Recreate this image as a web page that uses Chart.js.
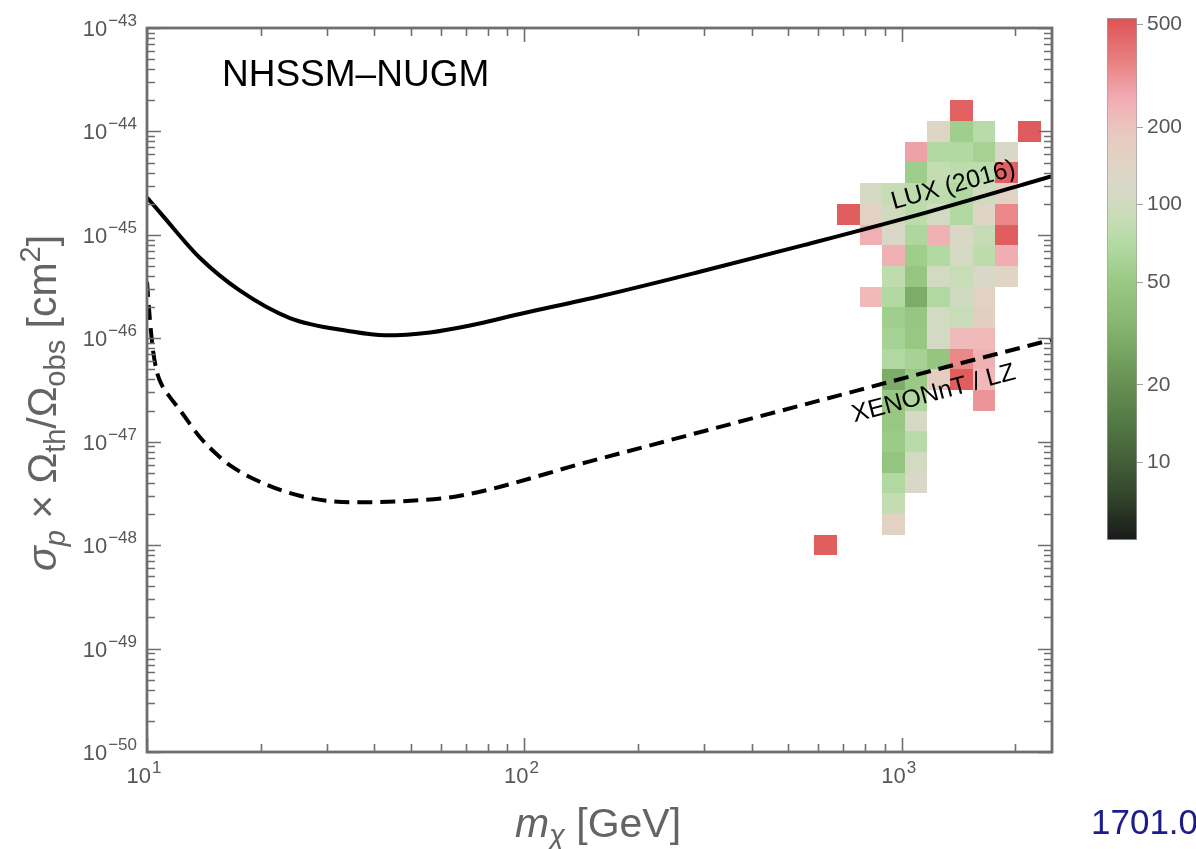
<!DOCTYPE html>
<html>
<head>
<meta charset="utf-8">
<title>NHSSM-NUGM</title>
<script src="https://cdn.jsdelivr.net/npm/chart.js@4.4.1/dist/chart.umd.min.js"></script>
<style>
  html, body { margin: 0; padding: 0; background: #fff; }
  #wrap { position: relative; width: 1196px; height: 849px; overflow: hidden; }
  #main { position: absolute; left: 0; top: 0; }
  #cbar { position: absolute; left: 1100px; top: 0; }
</style>
</head>
<body>
<div id="wrap">
  <canvas id="main" width="1196" height="849"></canvas>
  <canvas id="cbar" width="96" height="560"></canvas>
</div>
<script>
// LUX (2016) limit
const luxMass = [10, 10.96, 13.8, 17.6, 23.9, 34.5, 42.7, 56.2, 71.8, 97.3, 158.5, 291.6, 553, 1172, 2500];
const luxSigma = [2.3e-45, 1.56e-45, 6.0e-46, 2.9e-46, 1.57e-46, 1.17e-46, 1.07e-46, 1.14e-46, 1.33e-46, 1.72e-46, 2.55e-46, 4.4e-46, 8.0e-46, 1.66e-45, 3.7e-45];

// XENONnT / LZ projected reach
const xenonMass = [10, 10.18, 10.37, 10.63, 10.96, 11.5, 12.23, 13.0, 13.8, 15.1, 16.6, 19.9, 25.4, 34.5, 46.8, 67.5, 150, 300, 600, 1200, 2500];
const xenonSigma = [3.5e-46, 1.5e-46, 7.7e-47, 4.7e-47, 3.5e-47, 2.7e-47, 2.02e-47, 1.48e-47, 1.11e-47, 7.9e-48, 5.9e-48, 4.1e-48, 3.0e-48, 2.6e-48, 2.65e-48, 3.0e-48, 6.5e-48, 1.27e-47, 2.48e-47, 4.85e-47, 9.7e-47];

// density histogram: bin centres and widths (log10)
const binMass = [628, 721, 828, 951, 1091, 1253, 1439, 1652, 1897, 2178];
const binSigma = [1.585e-44, 1e-44, 6.31e-45, 3.98e-45, 2.51e-45, 1.585e-45, 1e-45, 6.31e-46, 3.98e-46, 2.51e-46,
                  1.585e-46, 1e-46, 6.31e-47, 3.98e-47, 2.51e-47, 1.585e-47, 1e-47, 6.31e-48, 3.98e-48, 2.51e-48,
                  1.585e-48, 1e-48];
const massBinDex = 0.06;
const sigmaBinDex = 0.2;

// points per bin, rows follow binSigma, columns follow binMass
const _ = null;
const counts = [
  [_, _, _, _, _, _, 470, _, _, _],
  [_, _, _, _, _, 140, 55, 75, _, 490],
  [_, _, _, _, 280, 70, 70, 58, 120, _],
  [_, _, _, _, 54, 85, 78, 78, 470, _],
  [_, _, 110, 88, 78, 80, 70, 100, 150, _],
  [_, 480, 150, 100, 78, 105, 70, 140, 340, _],
  [_, _, 250, 120, 65, 245, 125, 88, 480, _],
  [_, _, _, 245, 54, 70, 110, 78, 255, _],
  [_, _, _, 80, 47, 105, 92, 115, 145, _],
  [_, _, 225, 70, 30, 68, 100, 150, _, _],
  [_, _, _, 55, 47, 105, 90, 160, _, _],
  [_, _, _, 60, 48, 108, 220, 225, _, _],
  [_, _, _, 68, 60, 46, 340, 245, _, _],
  [_, _, _, 30, 50, 165, 480, 230, _, _],
  [_, _, _, 48, 66, _, _, 310, _, _],
  [_, _, _, 48, 112, _, _, _, _, _],
  [_, _, _, 52, 75, _, _, _, _, _],
  [_, _, _, 45, 105, _, _, _, _, _],
  [_, _, _, 68, 120, _, _, _, _, _],
  [_, _, _, 85, _, _, _, _, _, _],
  [_, _, _, 150, _, _, _, _, _, _],
  [480, _, _, _, _, _, _, _, _, _]
];

// colour bar
const cbarMin = 5;
const cbarMax = 530;
const cbarTicks = [10, 20, 50, 100, 200, 500];
const colorStops = [
  [5, '#1a1a1a'], [7.8, '#354a2e'], [10.4, '#45603a'], [14.5, '#547a45'], [20, '#668f53'],
  [27, '#77a562'], [36, '#88b874'], [52, '#9ccb88'], [67, '#b0d8a0'], [78, '#bcdcac'],
  [97, '#cddcbc'], [117, '#d8d8c8'], [144, '#e0d4c4'], [190, '#e8c8c0'], [229, '#f0b8b8'],
  [266, '#f0a8b0'], [361, '#e88080'], [530, '#de5254']
];

const family = '"Liberation Sans", Arial, Helvetica, sans-serif';
const axisGray = '#6e6e6e';
const labelGray = '#575757';

function hexRgb(h) {
  return [1, 3, 5].map(i => parseInt(h.slice(i, i + 2), 16));
}

function colorFor(v) {
  const lv = Math.log10(v);
  for (let i = 1; i < colorStops.length; i++) {
    const [v0, c0] = colorStops[i - 1], [v1, c1] = colorStops[i];
    if (v <= v1 || i === colorStops.length - 1) {
      let t = (lv - Math.log10(v0)) / (Math.log10(v1) - Math.log10(v0));
      t = Math.max(0, Math.min(1, t));
      const a = hexRgb(c0), b = hexRgb(c1);
      const rgb = a.map((x, k) => Math.round(x + (b[k] - x) * t));
      return `rgb(${rgb.join(',')})`;
    }
  }
}

function tickValues(minExp, maxExp) {
  const out = [];
  for (let e = minExp; e < maxExp; e++) {
    for (let m = 1; m <= 9; m++) out.push({ v: Number(m + 'e' + e), major: m === 1, exp: e });
  }
  out.push({ v: Number('1e' + maxExp), major: true, exp: maxExp });
  return out;
}

function drawPower(ctx, exp, x, y, align) {
  const sup = exp < 0 ? '\u2212' + (-exp) : String(exp);
  ctx.font = `22px ${family}`;
  const wb = ctx.measureText('10').width;
  ctx.font = `17px ${family}`;
  const ws = ctx.measureText(sup).width;
  const total = wb + ws + 1;
  const x0 = align === 'right' ? x - total : x - total / 2;
  ctx.textAlign = 'left';
  ctx.textBaseline = 'alphabetic';
  ctx.font = `22px ${family}`;
  ctx.fillText('10', x0, y);
  ctx.font = `17px ${family}`;
  ctx.fillText(sup, x0 + wb + 1, y - 10);
}

// draws a list of text runs one after another, centred on (0,0)
function drawRuns(ctx, runs) {
  let w = 0;
  runs.forEach(r => { ctx.font = r.font; r.w = ctx.measureText(r.t).width; w += r.w; });
  let x = -w / 2;
  ctx.textAlign = 'left';
  ctx.textBaseline = 'alphabetic';
  runs.forEach(r => { ctx.font = r.font; ctx.fillText(r.t, x, r.dy || 0); x += r.w; });
}

const heatPlugin = {
  id: 'heat',
  beforeDatasetsDraw(chart) {
    const { ctx, chartArea, scales: { x, y } } = chart;
    const hm = Math.pow(10, massBinDex / 2), hs = Math.pow(10, sigmaBinDex / 2);
    ctx.save();
    ctx.beginPath();
    ctx.rect(chartArea.left, chartArea.top, chartArea.width, chartArea.height);
    ctx.clip();
    counts.forEach((row, r) => row.forEach((n, c) => {
      if (n == null) return;
      const x0 = Math.round(x.getPixelForValue(binMass[c] / hm));
      const x1 = Math.round(x.getPixelForValue(binMass[c] * hm));
      const y0 = Math.round(y.getPixelForValue(binSigma[r] * hs));
      const y1 = Math.round(y.getPixelForValue(binSigma[r] / hs));
      ctx.fillStyle = colorFor(n);
      ctx.fillRect(x0, y0, x1 - x0, y1 - y0);
    }));
    ctx.restore();
  }
};

const framePlugin = {
  id: 'frame',
  afterDatasetsDraw(chart) {
    const { ctx, chartArea: a, scales: { x, y } } = chart;
    ctx.save();
    ctx.strokeStyle = axisGray;
    ctx.lineWidth = 1.6;
    ctx.beginPath();
    tickValues(-50, -43).forEach(t => {
      const py = Math.round(y.getPixelForValue(t.v)) + 0.5;
      const len = t.major ? 14 : 8;
      ctx.moveTo(a.left, py); ctx.lineTo(a.left + len, py);
      ctx.moveTo(a.right, py); ctx.lineTo(a.right - len, py);
    });
    tickValues(1, 3).concat([{ v: 2000, major: false }]).forEach(t => {
      const px = Math.round(x.getPixelForValue(t.v)) + 0.5;
      const len = t.major ? 14 : 8;
      ctx.moveTo(px, a.bottom); ctx.lineTo(px, a.bottom - len);
      ctx.moveTo(px, a.top); ctx.lineTo(px, a.top + len);
    });
    ctx.stroke();
    ctx.lineWidth = 2.8;
    ctx.strokeRect(a.left, a.top, a.right - a.left, a.bottom - a.top);

    // curve labels
    ctx.fillStyle = '#000';
    ctx.font = `25px ${family}`;
    ctx.textAlign = 'center';
    ctx.textBaseline = 'middle';
    ctx.save();
    ctx.translate(x.getPixelForValue(1370), y.getPixelForValue(3.0e-45));
    ctx.rotate(-15.5 * Math.PI / 180);
    ctx.fillText('LUX (2016)', 0, 0);
    ctx.restore();
    ctx.save();
    ctx.translate(x.getPixelForValue(1215), y.getPixelForValue(2.9e-47));
    ctx.rotate(-15 * Math.PI / 180);
    ctx.fillText('XENONnT / LZ', 0, 0);
    ctx.restore();

    ctx.font = `37px ${family}`;
    ctx.textAlign = 'left';
    ctx.textBaseline = 'alphabetic';
    ctx.fillText('NHSSM\u2013NUGM', a.left + 75, a.top + 58);
    ctx.restore();
  },
  afterDraw(chart) {
    const { ctx, chartArea: a, scales: { x, y } } = chart;
    ctx.save();
    ctx.fillStyle = labelGray;
    for (let e = -50; e <= -43; e++) {
      drawPower(ctx, e, a.left - 10, y.getPixelForValue(Number('1e' + e)) + 8, 'right');
    }
    for (let e = 1; e <= 3; e++) {
      drawPower(ctx, e, x.getPixelForValue(Math.pow(10, e)) - 3, a.bottom + 31, 'center');
    }

    ctx.fillStyle = '#646464';
    const big = `41px ${family}`, bigIt = `italic 41px ${family}`;
    const sub = `29px ${family}`, subIt = `italic 29px ${family}`;
    ctx.save();
    ctx.translate(598, 837);
    drawRuns(ctx, [
      { t: 'm', font: bigIt },
      { t: '\u03c7', font: subIt, dy: 8 },
      { t: ' [GeV]', font: big }
    ]);
    ctx.restore();

    ctx.save();
    ctx.translate(56, 403);
    ctx.rotate(-Math.PI / 2);
    drawRuns(ctx, [
      { t: '\u03c3', font: bigIt },
      { t: 'p', font: subIt, dy: 9 },
      { t: ' \u00d7 \u03a9', font: big },
      { t: 'th', font: sub, dy: 9 },
      { t: '/\u03a9', font: big },
      { t: 'obs', font: sub, dy: 9 },
      { t: ' [cm', font: big },
      { t: '2', font: sub, dy: -16 },
      { t: ']', font: big }
    ]);
    ctx.restore();

    ctx.fillStyle = '#1c1c8a';
    ctx.font = `35px ${family}`;
    ctx.textAlign = 'left';
    ctx.fillText('1701.0', 1091, 834);
    ctx.restore();
  }
};

new Chart(document.getElementById('main'), {
  type: 'scatter',
  data: {
    datasets: [
      {
        label: 'LUX (2016)',
        data: luxMass.map((m, i) => ({ x: m, y: luxSigma[i] })),
        showLine: true,
        borderColor: '#000',
        borderWidth: 4,
        pointRadius: 0,
        cubicInterpolationMode: 'monotone'
      },
      {
        label: 'XENONnT / LZ',
        data: xenonMass.map((m, i) => ({ x: m, y: xenonSigma[i] })),
        showLine: true,
        borderColor: '#000',
        borderWidth: 4,
        borderDash: [15, 8],
        pointRadius: 0,
        cubicInterpolationMode: 'monotone'
      }
    ]
  },
  options: {
    responsive: false,
    animation: false,
    devicePixelRatio: 1,
    layout: { padding: { left: 147, top: 28, right: 144, bottom: 97 } },
    plugins: { legend: { display: false }, tooltip: { enabled: false } },
    scales: {
      x: { type: 'logarithmic', min: 10, max: 2500, display: false },
      y: { type: 'logarithmic', min: 1e-50, max: 1e-43, display: false }
    }
  },
  plugins: [heatPlugin, framePlugin]
});

function barGradient(c) {
  const ch = c.chart;
  const area = ch.chartArea;
  if (!area) return '#cccccc';
  const ys = ch.scales.y;
  const g = ch.ctx.createLinearGradient(0, area.bottom, 0, area.top);
  colorStops.forEach(([v, col]) => {
    const t = (area.bottom - ys.getPixelForValue(v)) / (area.bottom - area.top);
    g.addColorStop(Math.max(0, Math.min(1, t)), col);
  });
  return g;
}

new Chart(document.getElementById('cbar'), {
  type: 'bar',
  data: {
    labels: ['n'],
    datasets: [{
      data: [[cbarMin, cbarMax]],
      backgroundColor: barGradient,
      borderColor: '#a0a0a0',
      borderWidth: 1,
      borderSkipped: false,
      barPercentage: 1,
      categoryPercentage: 1
    }]
  },
  options: {
    responsive: false,
    animation: false,
    devicePixelRatio: 1,
    layout: { padding: { left: 7, top: 18, bottom: 20, right: 0 } },
    plugins: { legend: { display: false }, tooltip: { enabled: false } },
    scales: {
      x: { display: false },
      y: {
        type: 'logarithmic',
        position: 'right',
        min: cbarMin,
        max: cbarMax,
        afterBuildTicks: s => { s.ticks = cbarTicks.map(v => ({ value: v })); },
        afterFit: s => { s.width = 59; },
        grid: { drawOnChartArea: false, tickLength: 6, color: '#a0a0a0' },
        border: { display: false },
        ticks: { color: labelGray, font: { size: 21, family: family }, padding: 4, autoSkip: false, callback: v => String(v) }
      }
    }
  }
});
</script>
</body>
</html>
